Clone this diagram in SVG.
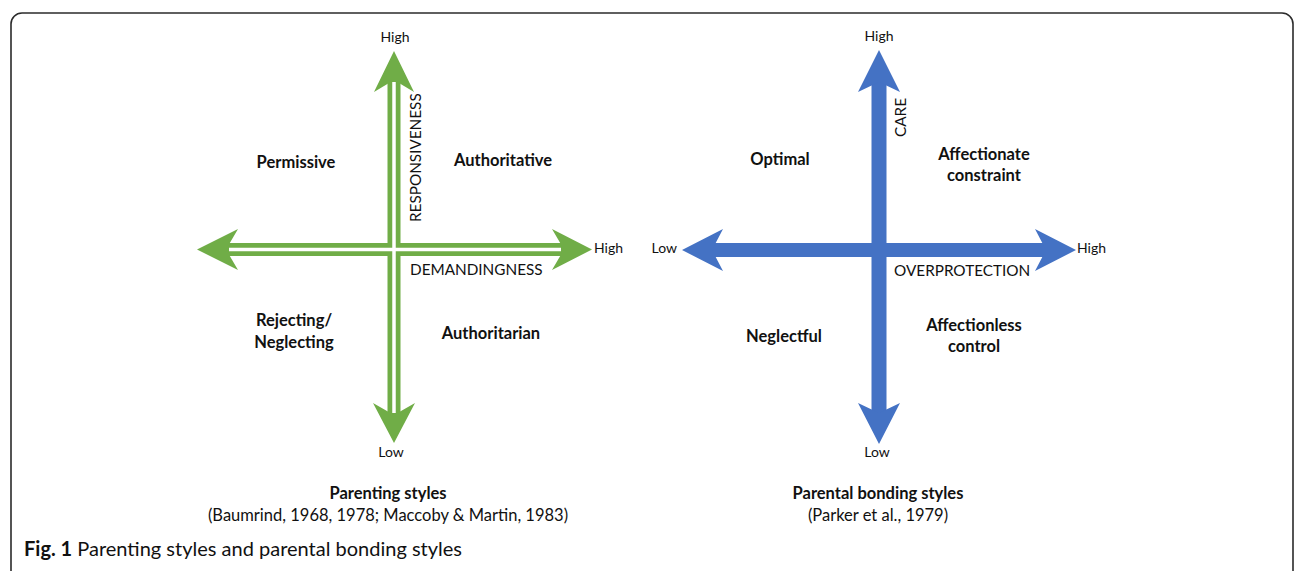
<svg xmlns="http://www.w3.org/2000/svg" width="1296" height="571" viewBox="0 0 1296 571">
<style>
  text { font-family: Lato, "Open Sans", "Liberation Sans", sans-serif; fill: #111111; }
  .lbl { font-size: 16.5px; font-weight: bold; text-anchor: middle; }
  .tick { font-size: 14px; text-anchor: middle; }
  .axis { font-size: 15.3px; }
  .cap { font-size: 16.5px; text-anchor: middle; }
  .g { fill: #70AD47; }
  .b { fill: #4472C4; }
  .gs { stroke: #70AD47; stroke-width: 13; fill: none; }
  .bs { stroke: #4472C4; stroke-width: 15; fill: none; }
  .ws { stroke: #ffffff; stroke-width: 3.5; fill: none; }
</style>
<rect x="0" y="0" width="1296" height="571" fill="#ffffff"/>
<rect id="frame" x="11" y="13" width="1282" height="575" rx="11" ry="11" fill="none" stroke="#2b2b2b" stroke-width="1.6"/>

<g id="connectors">
  <g id="green-vertical">
    <line class="gs" x1="394" y1="79" x2="394" y2="416"/>
    <polygon class="g" points="394,51 414,92 394,80 374,92"/>
    <polygon class="g" points="394,443 415,403 394,415 373,403"/>
  </g>
  <g id="green-horizontal">
    <line class="gs" x1="226" y1="249.5" x2="564" y2="249.5"/>
    <polygon class="g" points="197,249.5 238,229 226,249.5 238,270"/>
    <polygon class="g" points="592,249.5 552,229 564,249.5 552,270"/>
  </g>
  <line class="ws" x1="394" y1="82" x2="394" y2="413"/>
  <line class="ws" x1="229" y1="249.5" x2="561" y2="249.5"/>
  <g id="blue-vertical">
    <line class="bs" x1="879" y1="81" x2="879" y2="414"/>
    <polygon class="b" points="879,50 900,92 879,82 858,92"/>
    <polygon class="b" points="879,444 900,403 879,413 858,403"/>
  </g>
  <g id="blue-horizontal">
    <line class="bs" x1="711" y1="250" x2="1047" y2="250" style="stroke-width:14"/>
    <polygon class="b" points="682,250 723,229 712,250 723,271"/>
    <polygon class="b" points="1076,250 1035,229 1046,250 1035,271"/>
  </g>
</g>

<g id="left-axis-labels">
  <text class="tick" x="395" y="42">High</text>
  <text class="tick" x="391" y="457">Low</text>
  <text class="tick" x="594" y="253" style="text-anchor:start">High</text>
  <text class="axis" x="410" y="275">DEMANDINGNESS</text>
  <text class="axis" x="421" y="222" transform="rotate(-90 421 222)">RESPONSIVENESS</text>
</g>
<g id="node-permissive"><text class="lbl" x="296" y="168">Permissive</text></g>
<g id="node-authoritative"><text class="lbl" x="503" y="166">Authoritative</text></g>
<g id="node-rejecting"><text class="lbl" x="294" y="326">Rejecting/</text><text class="lbl" x="294" y="348">Neglecting</text></g>
<g id="node-authoritarian"><text class="lbl" x="491" y="339">Authoritarian</text></g>
<g id="caption-left">
  <text class="lbl" x="388" y="499">Parenting styles</text>
  <text class="cap" x="388" y="521">(Baumrind, 1968, 1978; Maccoby &amp; Martin, 1983)</text>
</g>

<g id="right-axis-labels">
  <text class="tick" x="879" y="41">High</text>
  <text class="tick" x="877" y="457">Low</text>
  <text class="tick" x="677" y="253" style="text-anchor:end">Low</text>
  <text class="tick" x="1077" y="253" style="text-anchor:start">High</text>
  <text class="axis" x="894" y="276">OVERPROTECTION</text>
  <text class="axis" x="906" y="137" transform="rotate(-90 906 137)">CARE</text>
</g>
<g id="node-optimal"><text class="lbl" x="780" y="165">Optimal</text></g>
<g id="node-affectionate"><text class="lbl" x="984" y="160">Affectionate</text><text class="lbl" x="984" y="181">constraint</text></g>
<g id="node-neglectful"><text class="lbl" x="784" y="342">Neglectful</text></g>
<g id="node-affectionless"><text class="lbl" x="974" y="331">Affectionless</text><text class="lbl" x="974" y="352">control</text></g>
<g id="caption-right">
  <text class="lbl" x="878" y="499">Parental bonding styles</text>
  <text class="cap" x="878" y="521">(Parker et al., 1979)</text>
</g>

<g id="figure-caption">
  <text x="24" y="556" style="font-size:20px"><tspan font-weight="bold">Fig. 1</tspan> Parenting styles and parental bonding styles</text>
</g>
</svg>
